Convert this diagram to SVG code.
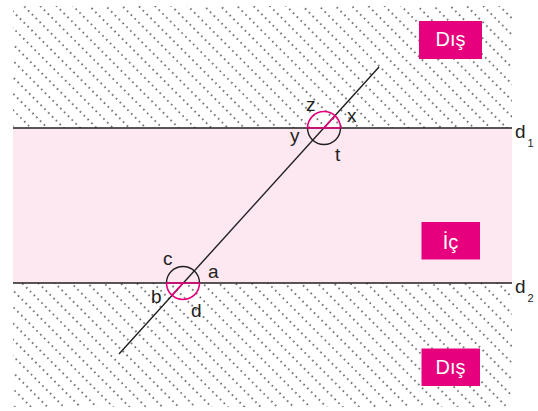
<svg xmlns="http://www.w3.org/2000/svg" width="538" height="411" viewBox="0 0 538 411">
<defs>
<pattern id="hatch" patternUnits="userSpaceOnUse" width="11.6" height="5.4" patternTransform="rotate(-45)">
<circle cx="1" cy="1" r="0.85" fill="#222"/>
</pattern>
<style>
.line{stroke:#1f1f1f;stroke-width:1.4;fill:none}
.pk{stroke:#e6007e;stroke-width:1.6;fill:none}
.bk{stroke:#1f1f1f;stroke-width:1.4;fill:none}
.lbl{font-family:"Liberation Sans",Arial,sans-serif;font-size:19px;fill:#222}
.sub{font-family:"Liberation Sans",Arial,sans-serif;font-size:11px;fill:#222}
.box{fill:#e6007e}
.btxt{font-family:"Liberation Sans",Arial,sans-serif;font-size:20px;fill:#fff;text-anchor:middle}
</style>
</defs>
<g id="regions">
<rect x="13" y="6" width="499" height="122" fill="url(#hatch)"/>
<rect x="13" y="128" width="499" height="155" fill="#fde8f1"/>
<rect x="13" y="283" width="499" height="124" fill="url(#hatch)"/>
</g>
<g id="connectors">
<line id="d1" class="line" x1="13" y1="128" x2="512" y2="128"/>
<line id="d2" class="line" x1="13" y1="283" x2="512" y2="283"/>
<line id="transversal" class="line" x1="379" y1="67" x2="119" y2="354"/>
</g>
<g id="angle-top">
<path class="bk" d="M307.5,128 A16.5,16.5 0 0 0 340.5,128"/>
<path class="pk" d="M307.5,128 A16.5,16.5 0 0 1 340.5,128 Z"/>
<line class="pk" x1="324" y1="128" x2="335" y2="115.8"/>
</g>
<g id="angle-bottom">
<path class="bk" d="M166.5,283 A16.5,16.5 0 0 1 199.5,283"/>
<path class="pk" d="M166.5,283 A16.5,16.5 0 0 0 199.5,283 Z"/>
<line class="pk" x1="183" y1="283" x2="172" y2="295.2"/>
</g>
<g id="labels">
<text class="lbl" x="306" y="111">z</text>
<text class="lbl" x="347" y="121.5">x</text>
<text class="lbl" x="290" y="141.5">y</text>
<text class="lbl" x="335" y="161">t</text>
<text class="lbl" x="163" y="265">c</text>
<text class="lbl" x="208" y="278">a</text>
<text class="lbl" x="151" y="303">b</text>
<text class="lbl" x="191" y="316.5">d</text>
<text class="lbl" x="515" y="138">d</text><text class="sub" x="527.5" y="147">1</text>
<text class="lbl" x="515" y="293">d</text><text class="sub" x="527.5" y="302">2</text>
</g>
<g id="dis-top">
<rect class="box" x="419" y="21" width="63" height="38"/>
<text class="btxt" x="450.5" y="46">Dış</text>
</g>
<g id="ic">
<rect class="box" x="421.5" y="222" width="58.5" height="37.5"/>
<text class="btxt" x="450.5" y="249">İç</text>
</g>
<g id="dis-bottom">
<rect class="box" x="421.5" y="348.5" width="58.5" height="37.5"/>
<text class="btxt" x="450.5" y="374">Dış</text>
</g>
</svg>
